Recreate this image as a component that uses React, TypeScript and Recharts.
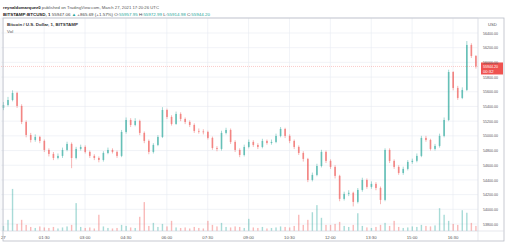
import React from 'react';
import { ComposedChart, Bar, XAxis, YAxis, CartesianGrid, ReferenceLine } from 'recharts';

const times = (
  '00:00 00:10 00:20 00:30 00:40 00:50 01:00 01:10 01:20 01:30 01:40 01:50 ' +
  '02:00 02:10 02:20 02:30 02:40 02:50 03:00 03:10 03:20 03:30 03:40 03:50 ' +
  '04:00 04:10 04:20 04:30 04:40 04:50 05:00 05:10 05:20 05:30 05:40 05:50 ' +
  '06:00 06:10 06:20 06:30 06:40 06:50 07:00 07:10 07:20 07:30 07:40 07:50 ' +
  '08:00 08:10 08:20 08:30 08:40 08:50 09:00 09:10 09:20 09:30 09:40 09:50 ' +
  '10:00 10:10 10:20 10:30 10:40 10:50 11:00 11:10 11:20 11:30 11:40 11:50 ' +
  '12:00 12:10 12:20 12:30 12:40 12:50 13:00 13:10 13:20 13:30 13:40 13:50 ' +
  '14:00 14:10 14:20 14:30 14:40 14:50 15:00 15:10 15:20 15:30 15:40 15:50 ' +
  '16:00 16:10 16:20 16:30 16:40 16:50 17:00 17:10 17:20'
).split(' ');

const open = [55380,55420,55488,55584,55407,55189,55012,54944,54985,54931,
54808,54754,54699,54727,54808,54890,54699,54822,54849,54781,
54727,54699,54672,54767,54808,54781,54727,55053,55216,55148,
55203,55040,54931,54781,54876,54985,55352,55257,55162,55298,
55230,55189,55148,55067,55060,55053,54972,54835,54822,55040,
55080,54917,54808,54740,54849,54917,54876,54849,54931,54903,
54917,54999,55094,54999,54931,54849,54767,54686,54400,54468,
54590,54781,54659,54577,54455,54142,54210,54225,54101,54264,
54400,54305,54346,54291,54128,54808,54659,54577,54495,54550,
54645,54660,54727,54972,54944,54822,54863,54999,55216,55869,
55652,55516,55625,56237,56087];

const close = [55420,55488,55584,55407,55189,55012,54944,54985,54931,54808,
54754,54699,54727,54808,54890,54699,54822,54849,54781,54727,
54699,54672,54767,54808,54781,54727,55053,55216,55148,55203,
55040,54931,54781,54876,54985,55352,55257,55162,55298,55230,
55189,55148,55067,55060,55053,54972,54835,54822,55040,55080,
54917,54808,54740,54849,54917,54876,54849,54931,54903,54917,
54999,55094,54999,54931,54849,54767,54686,54400,54468,54590,
54781,54659,54577,54455,54142,54210,54225,54101,54264,54400,
54305,54346,54291,54128,54808,54659,54577,54495,54550,54645,
54660,54727,54972,54944,54822,54863,54999,55216,55869,55652,
55516,55625,56237,56087,55944.2];

const high = [55460,55530,55620,55600,55430,55210,55040,55020,55000,54950,
54830,54780,54760,54840,54920,54910,54850,54880,54870,54800,
54750,54720,54790,54840,54830,54800,55080,55250,55240,55240,
55220,55060,54950,54900,55010,55390,55370,55280,55330,55320,
55250,55210,55170,55100,55090,55070,54990,54860,55070,55110,
55100,54940,54830,54880,54950,54940,54900,54960,54950,54950,
55030,55120,55110,55020,54950,54870,54790,54700,54500,54620,
54810,54800,54680,54600,54470,54240,54260,54240,54290,54430,
54420,54380,54370,54310,54830,54830,54680,54600,54580,54670,
54690,54760,55000,55000,54960,54890,55030,55250,55900,55880,
55680,55660,56290,56260,56100];

const low = [55350,55400,55470,55380,55160,54980,54910,54920,54900,54780,
54720,54670,54680,54700,54790,54560,54680,54800,54760,54700,
54670,54640,54650,54750,54760,54700,54710,55030,55120,55130,
55010,54900,54750,54760,54860,54970,55230,55140,55150,55200,
55160,55120,55040,55030,55020,54950,54810,54790,54800,55020,
54890,54780,54710,54720,54830,54850,54820,54830,54880,54880,
54900,54980,54970,54900,54820,54740,54650,54370,54380,54450,
54570,54630,54550,54420,54110,54120,54180,54040,54080,54240,
54280,54280,54260,54070,54110,54630,54550,54470,54470,54530,
54620,54640,54710,54920,54800,54800,54840,54980,55200,55620,
55490,55500,55610,56060,55915];

const vol = [10,22,83,14,22,12,8,6,9,7,
6,8,5,7,9,12,55,8,6,7,
5,32,9,6,5,6,12,10,7,6,
28,57,10,16,8,14,9,20,7,6,
7,5,8,6,5,20,12,9,16,8,
7,9,8,6,24,7,6,8,5,6,
7,9,8,7,10,32,12,22,37,51,
26,12,12,14,18,10,8,12,35,10,
7,6,8,12,16,10,20,8,6,7,
9,8,12,10,9,11,45,32,20,14,
12,41,36,16,10];

const timeTicks = ['00:00','01:30','03:00','04:30','06:00','07:30','09:00','10:30','12:00','13:30','15:00','16:30'];
const timeTickLabels: Record<string, string> = { '00:00': '27' };
const priceTicks = [53800,54000,54200,54400,54600,54800,55000,55200,55400,55600,55800,56000,56200,56400];
const lastPrice = 55944.2;

const UP = '#26a69a';
const DOWN = '#ef5350';
const FONT = '"Liberation Sans", Arial, sans-serif';

const data = times.map((t, i) => ({ t, open: open[i], high: high[i], low: low[i], close: close[i], vol: vol[i] }));

const Candle = (props: any) => {
  const { x, y, width, height, payload } = props;
  if (x == null || !payload) return null;
  const cx = x + width / 2;
  const top = Math.min(y, y + height);
  const h = Math.abs(height);
  const ratio = h / (payload.high - payload.low);
  const yo = top + (payload.high - payload.open) * ratio;
  const yc = top + (payload.high - payload.close) * ratio;
  const up = payload.close >= payload.open;
  const c = up ? UP : DOWN;
  const bt = Math.min(yo, yc);
  const bh = Math.max(Math.abs(yo - yc), 0.8);
  return (
    <g opacity={0.7}>
      <line x1={cx} x2={cx} y1={top} y2={top + h} stroke={c} strokeWidth={0.6} />
      <rect x={cx - 0.8} y={bt} width={1.6} height={bh} fill={c} />
    </g>
  );
};

const VolBar = (props: any) => {
  const { x, y, width, height, payload } = props;
  if (x == null || !payload) return null;
  const cx = x + width / 2;
  const up = payload.close >= payload.open;
  return <rect x={cx - 0.7} y={y} width={1.4} height={Math.max(height, 0)} fill={up ? 'rgba(38,166,154,0.4)' : 'rgba(239,83,80,0.4)'} />;
};

const TimeTick = (props: any) => {
  const { x, y, payload } = props;
  const v = payload.value;
  return (
    <text x={x} y={y + 8} textAnchor="middle" fontSize={4.3} fill="#555" fontFamily={FONT}>
      {timeTickLabels[v] ?? v}
    </text>
  );
};

const PriceTick = (props: any) => {
  const { x, y, payload } = props;
  return (
    <text x={x} y={y + 1.6} textAnchor="start" fontSize={4.3} fill="#555" fontFamily={FONT} textLength={15} lengthAdjust="spacingAndGlyphs">
      {Number(payload.value).toFixed(2)}
    </text>
  );
};

const PriceLabel = (props: any) => {
  const vb = props.viewBox || {};
  const bx = vb.x + vb.width + 3;
  const by = vb.y;
  return (
    <g>
      <rect x={bx} y={by - 4} width={22} height={12} fill="#ef5350" />
      <text x={bx + 2} y={by + 1.5} fontSize={4.2} fill="#fff" fontFamily={FONT} textLength={15} lengthAdjust="spacingAndGlyphs">{lastPrice.toFixed(2)}</text>
      <text x={bx + 2} y={by + 6.5} fontSize={4.2} fill="#fff" fontFamily={FONT}>00:32</text>
    </g>
  );
};

export default function App() {
  return (
    <div style={{ position: 'absolute', left: 0, top: 0, width: 511, height: 244, background: '#fff', overflow: 'hidden' }}>
      <ComposedChart width={511} height={244} data={data} margin={{ top: 18, right: 0, bottom: 0, left: 1 }}>
        <CartesianGrid xAxisId="main" yAxisId="price" stroke="#e8ebf1" strokeWidth={0.6} />
        <XAxis xAxisId="main" dataKey="t" ticks={timeTicks} interval={0} height={13} tickLine={false} axisLine={false} tickSize={0} tickMargin={0} tick={<TimeTick />} />
        <XAxis xAxisId="vol" dataKey="t" hide />
        <YAxis yAxisId="price" orientation="right" width={33} domain={[53705, 56604]} ticks={priceTicks} interval={0} allowDataOverflow tickLine={false} axisLine={false} tickSize={0} tickMargin={5} tick={<PriceTick />} />
        <YAxis yAxisId="vol" hide domain={[0, 420]} />
        <Bar xAxisId="vol" yAxisId="vol" dataKey="vol" shape={<VolBar />} isAnimationActive={false} />
        <Bar xAxisId="main" yAxisId="price" dataKey={(d: any) => [d.low, d.high]} shape={<Candle />} isAnimationActive={false} />
        <ReferenceLine xAxisId="main" yAxisId="price" y={lastPrice} stroke="#ef5350" strokeOpacity={0.5} strokeWidth={0.6} strokeDasharray="1 1" label={<PriceLabel />} />
      </ComposedChart>
      <svg width={511} height={244} style={{ position: 'absolute', left: 0, top: 0, pointerEvents: 'none' }}>
        <text x={3} y={8.5} fontSize={4.4} fontFamily={FONT} fill="#555" textLength={156} lengthAdjust="spacingAndGlyphs">
          <tspan fontWeight="bold" fill="#222">reynaldomarquez0</tspan> published on TradingView.com, March 27, 2021 17:20:26 UTC
        </text>
        <text x={3} y={15.5} fontSize={4.4} fontFamily={FONT} fill="#444" textLength={207} lengthAdjust="spacingAndGlyphs">
          <tspan fontWeight="bold" fill="#222">BITSTAMP:BTCUSD, 1</tspan> 55947.06 <tspan fill={UP}>▲</tspan> +865.69 (+1.57%) O:<tspan fill={UP}>55957.95</tspan> H:<tspan fill={UP}>55972.99</tspan> L:<tspan fill={UP}>55914.98</tspan> C:<tspan fill={UP}>55944.20</tspan>
        </text>
        <rect x={3} y={18} width={501} height={223} fill="none" stroke="#b8bcc6" strokeWidth={0.8} />
        <line x1={478} x2={478} y1={18} y2={241} stroke="#d6d9e0" strokeWidth={0.6} />
        <line x1={3} x2={504} y1={231} y2={231} stroke="#d6d9e0" strokeWidth={0.6} />
        <text x={7} y={26} fontSize={4.4} fontFamily={FONT} fontWeight="bold" fill="#333" textLength={71} lengthAdjust="spacingAndGlyphs">Bitcoin / U.S. Dollar, 1, BITSTAMP</text>
        <text x={7} y={32.5} fontSize={4.4} fontFamily={FONT} fill="#555">Vol</text>
        <text x={488} y={26} fontSize={4.2} fontFamily={FONT} fill="#555">USD</text>
      </svg>
    </div>
  );
}
